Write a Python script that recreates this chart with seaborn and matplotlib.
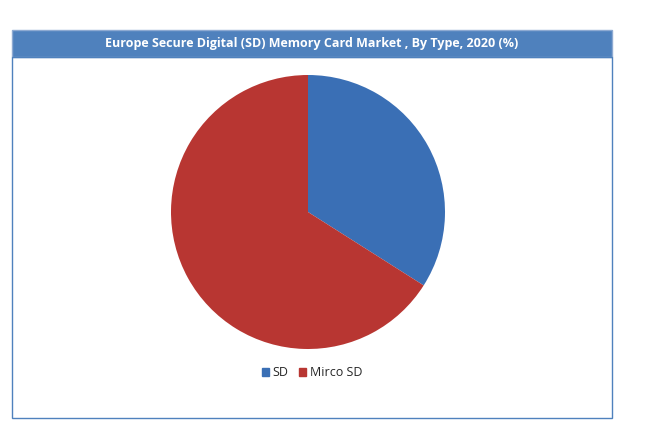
import matplotlib
matplotlib.use("Agg")
import matplotlib.pyplot as plt
import seaborn as sns
from matplotlib.patches import Rectangle

sns.set_style("white")
plt.rcParams['font.family'] = ['Open Sans', 'DejaVu Sans']

categories = ["SD", "Mirco SD"]
values = [34, 66]
colors = sns.color_palette(["#3a6fb5", "#b83632"])

fig = plt.figure(figsize=(6.62, 4.22), dpi=100)
fig.patch.set_facecolor("white")

fig.add_artist(Rectangle((12/662, 1-57/422), 600/662, 27/422, transform=fig.transFigure,
                         facecolor="#4f81bd", edgecolor="#8eaad2", lw=1))
fig.add_artist(Rectangle((12/662, 1-418/422), 600/662, 361/422, transform=fig.transFigure,
                         facecolor="none", edgecolor="#4f81bd", lw=1))
fig.text(312/662, 1-44/422, "Europe Secure Digital (SD) Memory Card Market , By Type, 2020 (%)",
         ha="center", va="center", color="white", fontsize=9, fontweight="bold")

ax = fig.add_axes([(308-137)/662, 1-(212+137)/422, 274/662, 274/422])
ax.pie(values, colors=colors, startangle=90, counterclock=False,
       wedgeprops=dict(edgecolor="none"))
ax.set_xlim(-1, 1)
ax.set_ylim(-1, 1)
ax.set_aspect("auto")
ax.axis("off")

lax = fig.add_axes([0, 1-385/422, 1, 24/422])
lax.axis("off")
handles = [Rectangle((0, 0), 1, 1, color=c) for c in colors]
lax.legend(handles, categories, loc="center", bbox_to_anchor=(312/662, 0.5), ncol=2,
           frameon=False, fontsize=9, handlelength=0.6, handleheight=0.6,
           columnspacing=0.8, handletextpad=0.3)

fig.savefig("out.png", dpi=100)
